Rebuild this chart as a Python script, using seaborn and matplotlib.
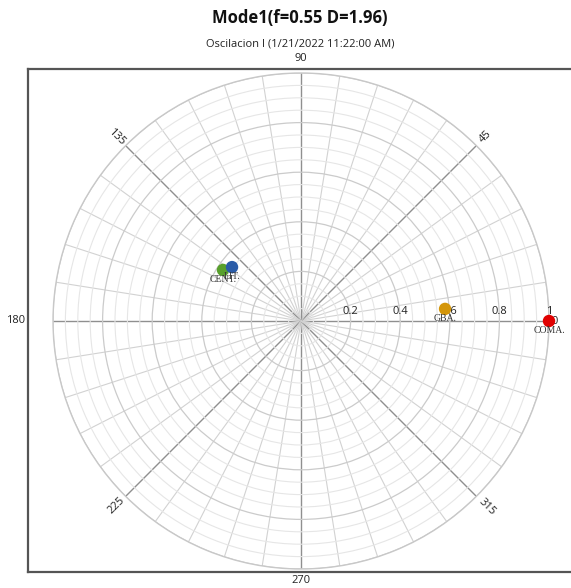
import numpy as np
import pandas as pd
import matplotlib
matplotlib.use("Agg")
import matplotlib.pyplot as plt
import seaborn as sns

# Mode shape points: amplitude (normalised) and phase angle in degrees
labels = ["COMA.", "GBA.", "CENT.", "LIT."]
amplitudes = [1.0, 0.583, 0.376, 0.353]
phases_deg = [0.0, 4.8, 146.8, 142.0]
colors = ["#e00000", "#d4960a", "#58a02c", "#2a5ca8"]

radial_ticks = [0.2, 0.4, 0.6, 0.8, 1.0]
radial_tick_labels = ["0.2", "0.4", "0.6", "0.8", "1"]
angle_labels = [0, 45, 90, 135, 180, 225, 270, 315]

title = "Mode1(f=0.55 D=1.96)"
subtitle = "Oscilacion I (1/21/2022 11:22:00 AM)"

sns.set_style("white")
plt.rcParams["font.family"] = ["Open Sans", "DejaVu Sans"]

df = pd.DataFrame({
    "label": labels,
    "r": amplitudes,
    "theta": np.deg2rad(phases_deg),
})

W, H = 571, 588
fig = plt.figure(figsize=(W / 100, H / 100), dpi=100)

# Rectangular frame around the plot area
frame = fig.add_axes([28 / W, (H - 572) / H, (574 - 28) / W, (572 - 69) / H])
frame.set_xticks([])
frame.set_yticks([])
for sp in frame.spines.values():
    sp.set_color("#555555")
    sp.set_linewidth(1.6)
frame.set_zorder(0)

# Polar plot
cx, cy, R = 301, 321, 248
ax = fig.add_axes([(cx - R) / W, (H - cy - R) / H, 2 * R / W, 2 * R / H],
                  projection="polar")
ax.set_zorder(1)
ax.patch.set_alpha(0)
ax.set_ylim(0, 1.0)
ax.set_xticks(np.deg2rad(np.arange(0, 360, 9)))
ax.set_yticks(np.round(np.arange(0.05, 1.0001, 0.05), 2))
ax.set_xticklabels([])
ax.set_yticklabels([])
ax.tick_params(length=0)
ax.grid(True)
ax.spines["polar"].set_color("#c8c8c8")
ax.spines["polar"].set_linewidth(1.0)

for ang, gl in zip(np.arange(0, 360, 9), ax.xaxis.get_gridlines()):
    if ang % 45 == 0:
        gl.set_color("#8f8f8f")
        gl.set_linewidth(1.0)
    else:
        gl.set_color("#d2d2d2")
        gl.set_linewidth(0.8)

for rv, gl in zip(np.round(np.arange(0.05, 1.0001, 0.05), 2), ax.yaxis.get_gridlines()):
    if abs(rv / 0.2 - round(rv / 0.2)) < 1e-6:
        gl.set_color("#cbcbcb")
        gl.set_linewidth(0.9)
    else:
        gl.set_color("#e6e6e6")
        gl.set_linewidth(0.8)

# Radial value labels along the 0° axis
for rv, txt in zip(radial_ticks, radial_tick_labels):
    ax.annotate(txt, xy=(0, rv), xytext=(0, 3), textcoords="offset points",
                ha="center", va="bottom", fontsize=8, color="#222222",
                annotation_clip=False)

# Angle labels
angle_pos = {
    0: (1.012, "left", 0),
    45: (1.05, "center", 45),
    90: (1.06, "center", 0),
    135: (1.05, "center", -45),
    180: (1.15, "center", 0),
    225: (1.05, "center", 45),
    270: (1.045, "center", 0),
    315: (1.06, "center", -45),
}
for a in angle_labels:
    rr, ha, rot = angle_pos[a]
    ax.text(np.deg2rad(a), rr, str(a), ha=ha, va="center", rotation=rot,
            rotation_mode="anchor", fontsize=8, color="#222222", clip_on=False)

# Points
sns.scatterplot(data=df, x="theta", y="r", hue="label", palette=colors,
                s=80, edgecolor="none", legend=False, ax=ax, zorder=5,
                clip_on=False)
ax.set_xlabel("")
ax.set_ylabel("")

for _, row in df.iterrows():
    ax.annotate(row["label"], xy=(row["theta"], row["r"]), xytext=(0, -3.5),
                textcoords="offset points", ha="center", va="top",
                fontsize=7, family="Liberation Serif", color="#333333",
                annotation_clip=False, zorder=6)

fig.text(300 / W, 1 - 18 / H, title, ha="center", va="center",
         fontsize=12, fontweight="bold", color="#111111")
fig.text(300 / W, 1 - 44 / H, subtitle, ha="center", va="center",
         fontsize=8, color="#222222")

fig.savefig("out.png", dpi=100, facecolor="white")
